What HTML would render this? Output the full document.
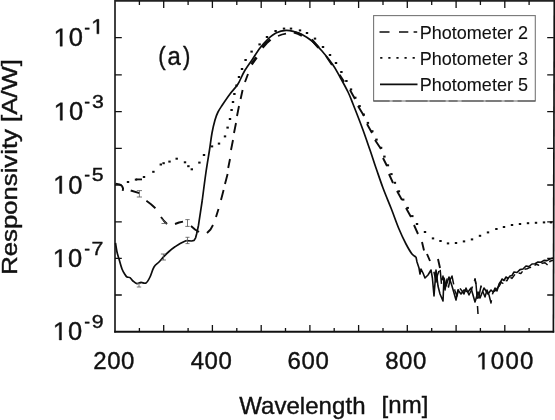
<!DOCTYPE html>
<html><head><meta charset="utf-8"><title>chart</title>
<style>
html,body{margin:0;padding:0;background:#fff;}
body{width:555px;height:420px;overflow:hidden;font-family:"Liberation Sans",sans-serif;}
svg{display:block;will-change:transform;}
svg text{font-family:"Liberation Sans",sans-serif;fill:#111;stroke:#111;stroke-width:0.4px;}
</style></head><body>
<svg width="555" height="420" viewBox="0 0 555 420">
<rect width="555" height="420" fill="#fff"/>
<path d="M115.0,0 V332.6" fill="none" stroke="#111" stroke-width="1.6"/>
<path d="M114.2,331.7 H554.2" fill="none" stroke="#111" stroke-width="2"/>
<path d="M553.4,332.6 L554.3,0" fill="none" stroke="#111" stroke-width="1.7"/>
<path d="M115.0,0.8 H554.2" fill="none" stroke="#222" stroke-width="1.8"/>
<path d="M139.4,331.5 v-3.5 M139.4,0.8 v4.3 M163.7,331.5 v-6.5 M163.7,0.8 v7.3 M188.1,331.5 v-3.5 M188.1,0.8 v4.3 M212.4,331.5 v-6.5 M212.4,0.8 v7.3 M236.8,331.5 v-3.5 M236.8,0.8 v4.3 M261.2,331.5 v-6.5 M261.2,0.8 v7.3 M285.5,331.5 v-3.5 M285.5,0.8 v4.3 M309.9,331.5 v-6.5 M309.9,0.8 v7.3 M334.2,331.5 v-3.5 M334.2,0.8 v4.3 M358.6,331.5 v-6.5 M358.6,0.8 v7.3 M383.0,331.5 v-3.5 M383.0,0.8 v4.3 M407.3,331.5 v-6.5 M407.3,0.8 v7.3 M431.7,331.5 v-3.5 M431.7,0.8 v4.3 M456.1,331.5 v-6.5 M456.1,0.8 v7.3 M480.4,331.5 v-3.5 M480.4,0.8 v4.3 M504.8,331.5 v-6.5 M504.8,0.8 v7.3 M529.1,331.5 v-3.5 M529.1,0.8 v4.3 M115.0,37.6 h6.8 M553.8,37.6 h-6.6 M115.0,74.9 h6.8 M553.8,74.9 h-6.6 M115.0,111.6 h6.8 M553.8,111.6 h-6.6 M115.0,148.3 h6.8 M553.8,148.3 h-6.6 M115.0,185.0 h6.8 M553.8,185.0 h-6.6 M115.0,221.8 h6.8 M553.8,221.8 h-6.6 M115.0,258.4 h6.8 M553.8,258.4 h-6.6 M115.0,295.0 h6.8 M553.8,295.0 h-6.6" stroke="#111" stroke-width="1.3" fill="none"/>
<text x="93.19" y="369.30" font-size="24" letter-spacing="0.6">200</text>
<text x="190.65" y="369.30" font-size="24" letter-spacing="0.6">400</text>
<text x="287.58" y="369.30" font-size="24" letter-spacing="0.6">600</text>
<text x="385.16" y="369.30" font-size="24" letter-spacing="0.6">800</text>
<path transform="translate(476.29,369.30) scale(0.01172,-0.01172)" d="M515 0V1237L197 1010V1180L530 1409H696V0Z" fill="#111" stroke="#111" stroke-width="34"/>
<text x="490.84" y="369.30" font-size="24" letter-spacing="1.2">000</text>
<path transform="translate(53.65,46.20) scale(0.01245,-0.01245)" d="M515 0V1237L197 1010V1180L530 1409H696V0Z" fill="#111" stroke="#111" stroke-width="32"/>
<text x="68.83" y="46.20" font-size="25.5" letter-spacing="1.0">0</text>
<text transform="translate(84.13,33.80) scale(0.95,1)" font-size="18.3">-</text>
<path transform="translate(91.08,33.80) scale(0.01128,-0.01025)" d="M515 0V1237L197 1010V1180L530 1409H696V0Z" fill="#111" stroke="#111" stroke-width="39"/>
<path transform="translate(53.75,120.30) scale(0.01245,-0.01245)" d="M515 0V1237L197 1010V1180L530 1409H696V0Z" fill="#111" stroke="#111" stroke-width="32"/>
<text x="68.93" y="120.30" font-size="25.5" letter-spacing="1.0">0</text>
<text transform="translate(84.13,107.90) scale(0.95,1)" font-size="18.3">-</text>
<text transform="translate(91.89,107.90) scale(1.12,1)" font-size="19">3</text>
<path transform="translate(53.15,193.50) scale(0.01245,-0.01245)" d="M515 0V1237L197 1010V1180L530 1409H696V0Z" fill="#111" stroke="#111" stroke-width="32"/>
<text x="68.33" y="193.50" font-size="25.5" letter-spacing="1.0">0</text>
<text transform="translate(84.13,181.10) scale(0.95,1)" font-size="18.3">-</text>
<text transform="translate(91.85,181.10) scale(1.12,1)" font-size="19">5</text>
<path transform="translate(52.85,267.00) scale(0.01245,-0.01245)" d="M515 0V1237L197 1010V1180L530 1409H696V0Z" fill="#111" stroke="#111" stroke-width="32"/>
<text x="68.03" y="267.00" font-size="25.5" letter-spacing="1.0">0</text>
<text transform="translate(84.13,254.60) scale(0.95,1)" font-size="18.3">-</text>
<text transform="translate(91.61,254.60) scale(1.12,1)" font-size="19">7</text>
<path transform="translate(52.85,340.00) scale(0.01245,-0.01245)" d="M515 0V1237L197 1010V1180L530 1409H696V0Z" fill="#111" stroke="#111" stroke-width="32"/>
<text x="68.03" y="340.00" font-size="25.5" letter-spacing="1.0">0</text>
<text transform="translate(84.13,327.60) scale(0.95,1)" font-size="18.3">-</text>
<text transform="translate(91.70,327.60) scale(1.12,1)" font-size="19">9</text>
<text x="239.2" y="413.6" font-size="24" letter-spacing="0.05">Wavelength</text>
<text x="381.6" y="413.2" font-size="24" letter-spacing="0.05">[nm]</text>
<text transform="translate(17.3,274.8) rotate(-90) scale(1.169,1)" font-size="22" xml:space="preserve">Responsivity [A/W]</text>
<text transform="translate(158.23,65.00) scale(0.85,1)" font-size="26">(</text>
<text transform="translate(167.58,65.00) scale(0.92,1)" font-size="26">a</text>
<text transform="translate(183.07,65.00) scale(0.85,1)" font-size="26">)</text>
<rect x="373.6" y="15.6" width="161.7" height="85.4" fill="#fff" stroke="#777" stroke-width="1.1"/>
<path d="M373.6,101 H535.3" stroke="#444" stroke-width="1.1" stroke-dasharray="16 3 9 4 22 2" fill="none"/>
<text transform="translate(419.7,38.9) scale(0.95,1)" font-size="19" style="stroke-width:0.1px">Photometer 2</text>
<text transform="translate(419.7,64.9) scale(0.95,1)" font-size="19" style="stroke-width:0.1px">Photometer 3</text>
<text transform="translate(419.7,91.4) scale(0.95,1)" font-size="19" style="stroke-width:0.1px">Photometer 5</text>
<g fill="none" stroke="#0d0d0d" stroke-width="1.7" stroke-linejoin="round" stroke-linecap="butt">
<path d="M115.5,243.0 C115.8,244.5 116.4,249.3 117.0,252.0 C117.6,254.7 118.2,256.2 119.0,259.0 C119.8,261.8 121.0,266.4 122.0,269.0 C123.0,271.6 124.2,273.2 125.0,274.5 C125.8,275.8 126.2,276.5 127.0,277.0 C127.8,277.5 129.0,276.9 130.0,277.6 C131.0,278.3 131.8,280.0 133.0,281.0 C134.2,282.0 135.7,283.4 137.0,283.6 C138.3,283.8 139.5,282.5 141.0,282.4 C142.5,282.3 144.5,283.9 146.0,283.0 C147.5,282.1 148.7,279.7 150.0,277.0 C151.3,274.3 152.5,269.5 154.0,267.0 C155.5,264.5 157.3,263.8 159.0,262.0 C160.7,260.2 162.3,258.1 164.0,256.4 C165.7,254.6 167.2,253.1 169.0,251.5 C170.8,249.9 173.1,248.1 175.0,246.8 C176.9,245.5 178.3,244.5 180.2,243.5 C182.1,242.5 185.4,241.1 186.5,240.6"/>
<path d="M186.5,240.6 L191.6,241.0 L194.1,240.4 L195.6,237.8 L196.6,234.0 L198.5,225.2 L200.4,212.6 L202.3,200.0"/>
<path d="M202.3,200.0 C202.9,195.3 204.8,180.3 206.0,172.0 C207.2,163.7 208.5,156.5 209.5,150.0 C210.5,143.5 211.1,138.0 212.0,133.0 C212.9,128.0 214.0,123.5 215.0,120.0 C216.0,116.5 216.8,114.4 218.0,112.0 C219.2,109.6 220.0,108.5 222.0,105.5 C224.0,102.5 227.3,97.6 230.0,94.0 C232.7,90.4 235.7,87.7 238.0,84.0 C240.3,80.3 241.7,76.0 244.0,72.0 C246.3,68.0 249.3,64.0 252.0,60.0 C254.7,56.0 257.3,51.5 260.0,48.0 C262.7,44.5 265.3,41.5 268.0,39.0 C270.7,36.5 273.0,34.4 276.0,33.0 C279.0,31.6 283.0,30.6 286.0,30.4 C289.0,30.2 291.3,30.9 294.0,31.6 C296.7,32.3 299.0,32.8 302.0,34.4 C305.0,36.0 308.7,38.2 312.0,41.0 C315.3,43.8 318.5,47.0 322.0,51.0 C325.5,55.0 330.0,60.7 333.0,65.0 C336.0,69.3 337.5,72.5 340.0,77.0 C342.5,81.5 345.8,87.5 348.0,92.0 C350.2,96.5 350.5,97.7 353.0,104.0 C355.5,110.3 360.2,122.3 363.0,130.0 C365.8,137.7 367.8,143.7 370.0,150.0 C372.2,156.3 373.8,161.7 376.0,168.0 C378.2,174.3 380.5,181.3 383.0,188.0 C385.5,194.7 388.3,201.2 391.0,208.0 C393.7,214.8 396.5,223.0 399.0,229.0 C401.5,235.0 403.8,239.8 406.0,244.0 C408.2,248.2 410.3,251.8 412.0,254.0 C413.7,256.2 415.3,256.5 416.0,257.0"/>
<path d="M416.0,257.0 L417.0,262.0 L419.0,268.0 L420.0,274.0 L421.0,269.0 L423.0,273.0 L425.0,278.0 L428.0,275.0 L431.0,270.0 L432.4,278.0 L434.0,296.0 L436.0,270.0 L438.0,286.0 L440.0,294.0 L443.0,301.0 L444.0,278.0 L446.0,286.0 L449.0,277.0 L452.0,286.0 L456.0,300.0 L458.0,290.0 L461.0,294.0 L464.0,290.0 L468.0,292.0 L471.0,288.0 L475.0,302.0 L478.0,292.0 L480.0,298.0 L484.0,288.0 L488.0,294.0 L491.0,290.0 L493.0,292.0 L496.0,290.0 L499.0,286.0 L502.0,279.0 L504.0,280.5 L506.0,277.0 L508.0,278.5 L510.0,276.0 L512.0,275.5 L514.0,272.0 L517.0,272.5 L520.0,269.6 L523.0,269.0 L526.0,266.0 L529.0,266.5 L532.0,264.0 L535.0,263.8 L538.0,262.0 L541.0,262.3 L544.0,260.4 L547.0,260.6 L550.0,259.0 L553.0,258.0" stroke-width="1.6"/>
</g>
<g fill="none" stroke="#0d0d0d" stroke-width="1.9" stroke-linecap="butt" stroke-linejoin="round">
<path d="M115.5,183.6 L119.5,184.4 L122.0,186.0 L123.1,188.5 L122.7,190.8 M130.7,190.5 L139.4,193.2 M146.4,200.8 L151.0,204.2 L155.4,208.2 M161.0,217.0 L164.0,221.0 L167.0,224.0 M175.0,224.0 L179.0,222.5 L183.0,221.6 M191.0,226.0 L195.0,229.5 L199.0,232.0 M207.0,233.0 L210.5,229.5 L213.0,225.0 M216.0,217.0 L218.5,209.0 M221.0,200.0 L223.6,190.0 M225.0,184.0 L227.6,174.0 M228.2,168.0 L230.0,159.0 M231.0,150.0 L233.0,140.0 M234.0,133.0 L236.0,123.0 M237.0,116.0 L239.0,106.0 M240.6,99.0 L242.6,90.0 M245.0,82.0 L248.0,74.0 M326.0,56.0 L332.0,65.0 M339.6,74.7 L344.1,81.7 M350.0,90.0 L355.0,99.0 M358.0,106.0 L364.0,116.0 M367.0,124.0 L372.0,133.0 M375.0,140.0 L381.0,149.0 M383.0,158.0 L387.0,166.0 M389.0,174.0 L393.0,183.0 M397.0,191.0 L402.0,200.0 M406.0,208.0 L411.0,217.0 M414.0,225.0 L418.0,234.0 M422.0,242.0 L424.0,250.5 M427.0,254.0 L430.0,261.0 M438.0,259.0 L440.0,268.0"/>
<path d="M251.5,64.4 L256.5,57.4 M262.4,47.5 L266.4,43.0 L270.4,39.5 M294.0,32.2 L298.0,33.6 L302.0,35.4 M311.6,39.6 L318.6,47.6" stroke-width="2.7"/>
<path d="M278.0,36.0 L282.0,34.5 L286.0,33.6" stroke-width="1.7"/>
<path d="M432.0,266.0 L434.0,272.0 L436.0,282.0 L437.5,275.0 L440.0,268.0 L441.5,284.0 L443.0,276.0 L445.0,290.0 L447.0,279.0 L448.5,287.0 L450.0,280.0 L452.0,276.0 L455.0,291.0 L457.0,296.0 L459.0,287.0 L462.0,291.0 L464.0,294.0 L466.0,288.0 L469.0,295.0 L471.0,291.0 L473.0,285.0 L475.0,279.0 L476.0,284.0 L477.0,296.0 L478.0,301.0 L479.0,296.0 L481.0,286.0 L483.0,292.0 L485.0,297.0 L487.0,290.0 L489.0,295.0 L491.0,303.0 L492.5,294.0 L495.0,288.0 L497.0,291.0 L499.0,284.0 L501.0,281.0" stroke-width="1.5" stroke-dasharray="22 5 14 4 30 6" stroke-dashoffset="-6"/>
<path d="M499.0,286.4 L501.0,282.3 L503.0,283.3 L505.0,280.4 L507.0,280.8 L509.0,276.3 L512.0,278.4 L515.0,274.3 L518.0,272.8 L521.0,273.4 L524.0,269.3 L527.0,268.8 L530.0,267.4 L533.0,266.8 L536.0,264.3 L539.0,265.2 L542.0,263.3 L545.0,262.8 L548.0,265.4 L550.0,261.3 L553.0,260.3" stroke-width="1.5" stroke-dasharray="7 4 5 3"/>
<path d="M477.5,306 L478,314 M475,278.5 L475.8,284" stroke-width="1.5"/>
</g>
<g fill="#0d0d0d">
<rect x="126.8" y="181.0" width="2.4" height="2.0"/>
<rect x="134.8" y="178.6" width="2.4" height="2.0"/>
<rect x="142.8" y="176.0" width="2.4" height="2.0"/>
<rect x="152.2" y="170.8" width="2.4" height="2.0"/>
<rect x="159.6" y="163.5" width="2.4" height="2.0"/>
<rect x="162.4" y="162.2" width="2.4" height="2.0"/>
<rect x="168.3" y="160.6" width="2.4" height="2.0"/>
<rect x="175.5" y="157.7" width="2.4" height="2.0"/>
<rect x="183.8" y="161.3" width="2.4" height="2.0"/>
<rect x="187.2" y="165.2" width="2.4" height="2.0"/>
<rect x="190.6" y="168.3" width="2.4" height="2.0"/>
<rect x="198.2" y="161.6" width="2.4" height="2.0"/>
<rect x="202.8" y="154.0" width="2.4" height="2.0"/>
<rect x="210.8" y="145.4" width="2.4" height="2.0"/>
<rect x="217.8" y="142.6" width="2.4" height="2.0"/>
<rect x="223.8" y="135.4" width="2.4" height="2.0"/>
<rect x="226.4" y="126.6" width="2.4" height="2.0"/>
<rect x="228.8" y="118.0" width="2.4" height="2.0"/>
<rect x="230.4" y="109.0" width="2.4" height="2.0"/>
<rect x="231.8" y="101.0" width="2.4" height="2.0"/>
<rect x="233.2" y="93.0" width="2.4" height="2.0"/>
<rect x="235.3" y="84.5" width="2.4" height="2.0"/>
<rect x="237.8" y="76.0" width="2.4" height="2.0"/>
<rect x="240.8" y="68.0" width="2.4" height="2.0"/>
<rect x="244.4" y="59.0" width="2.4" height="2.0"/>
<rect x="250.4" y="50.6" width="2.4" height="2.0"/>
<rect x="258.4" y="43.4" width="2.4" height="2.0"/>
<rect x="265.8" y="36.0" width="2.4" height="2.0"/>
<rect x="274.4" y="30.0" width="2.4" height="2.0"/>
<rect x="282.8" y="27.6" width="2.4" height="2.0"/>
<rect x="289.8" y="27.6" width="2.4" height="2.0"/>
<rect x="298.8" y="29.4" width="2.4" height="2.0"/>
<rect x="305.8" y="32.0" width="2.4" height="2.0"/>
<rect x="313.8" y="37.6" width="2.4" height="2.0"/>
<rect x="321.8" y="46.0" width="2.4" height="2.0"/>
<rect x="328.8" y="54.0" width="2.4" height="2.0"/>
<rect x="334.8" y="62.0" width="2.4" height="2.0"/>
<rect x="340.2" y="71.0" width="2.4" height="2.0"/>
<rect x="345.2" y="80.0" width="2.4" height="2.0"/>
<rect x="349.8" y="88.4" width="2.4" height="2.0"/>
<rect x="354.1" y="96.7" width="2.4" height="2.0"/>
<rect x="358.4" y="105.1" width="2.4" height="2.0"/>
<rect x="362.5" y="113.5" width="2.4" height="2.0"/>
<rect x="366.7" y="121.9" width="2.4" height="2.0"/>
<rect x="371.1" y="130.2" width="2.4" height="2.0"/>
<rect x="375.3" y="138.6" width="2.4" height="2.0"/>
<rect x="379.9" y="146.8" width="2.4" height="2.0"/>
<rect x="383.2" y="155.6" width="2.4" height="2.0"/>
<rect x="386.7" y="164.3" width="2.4" height="2.0"/>
<rect x="390.2" y="173.1" width="2.4" height="2.0"/>
<rect x="393.7" y="181.8" width="2.4" height="2.0"/>
<rect x="397.7" y="190.3" width="2.4" height="2.0"/>
<rect x="402.0" y="198.6" width="2.4" height="2.0"/>
<rect x="406.5" y="206.9" width="2.4" height="2.0"/>
<rect x="411.1" y="215.1" width="2.4" height="2.0"/>
<rect x="415.8" y="223.0" width="2.4" height="2.0"/>
<rect x="423.8" y="231.0" width="2.4" height="2.0"/>
<rect x="431.8" y="237.4" width="2.4" height="2.0"/>
<rect x="439.3" y="240.0" width="2.4" height="2.0"/>
<rect x="446.8" y="242.4" width="2.4" height="2.0"/>
<rect x="454.8" y="242.0" width="2.4" height="2.0"/>
<rect x="462.8" y="240.4" width="2.4" height="2.0"/>
<rect x="470.8" y="238.4" width="2.4" height="2.0"/>
<rect x="478.8" y="234.8" width="2.4" height="2.0"/>
<rect x="486.8" y="231.4" width="2.4" height="2.0"/>
<rect x="495.2" y="228.0" width="2.4" height="2.0"/>
<rect x="502.8" y="226.0" width="2.4" height="2.0"/>
<rect x="510.8" y="224.0" width="2.4" height="2.0"/>
<rect x="518.8" y="223.0" width="2.4" height="2.0"/>
<rect x="526.8" y="222.2" width="2.4" height="2.0"/>
<rect x="534.8" y="221.8" width="2.4" height="2.0"/>
<rect x="542.8" y="221.4" width="2.4" height="2.0"/>
<rect x="549.8" y="221.4" width="2.4" height="2.0"/>
<rect x="136" y="178.5" width="6" height="1.8"/>
</g>
<path d="M139.4,190.6 V197 M136.8,190.6 h5.2 M136.8,197 h5.2 M187.5,219.6 V226.4 M185.3,219.6 h4.4 M185.3,226.4 h4.4 M187.5,237.3 V243.6 M185.5,237.3 h4.0 M185.5,243.6 h4.0 M139,283.5 V287 M136.8,283.5 h4.4 M136.8,287 h4.4 M163.4,254 V260 M160.9,254 h5.0 M160.9,260 h5.0 M161.5,218.5 L166.5,223.5 M161.5,223.5 h5" fill="none" stroke="#555" stroke-width="0.8"/>
<path d="M379.5,32 h10 M399,32 h9.3 M413.6,32 h3.6" stroke="#0d0d0d" stroke-width="1.7" fill="none"/>
<path d="M380.2,57.8 h37" stroke="#0d0d0d" stroke-width="1.8" stroke-dasharray="2.2 5.9" fill="none"/>
<path d="M380,84.4 h37.5" stroke="#0d0d0d" stroke-width="1.8" fill="none"/>
</svg>
</body></html>
